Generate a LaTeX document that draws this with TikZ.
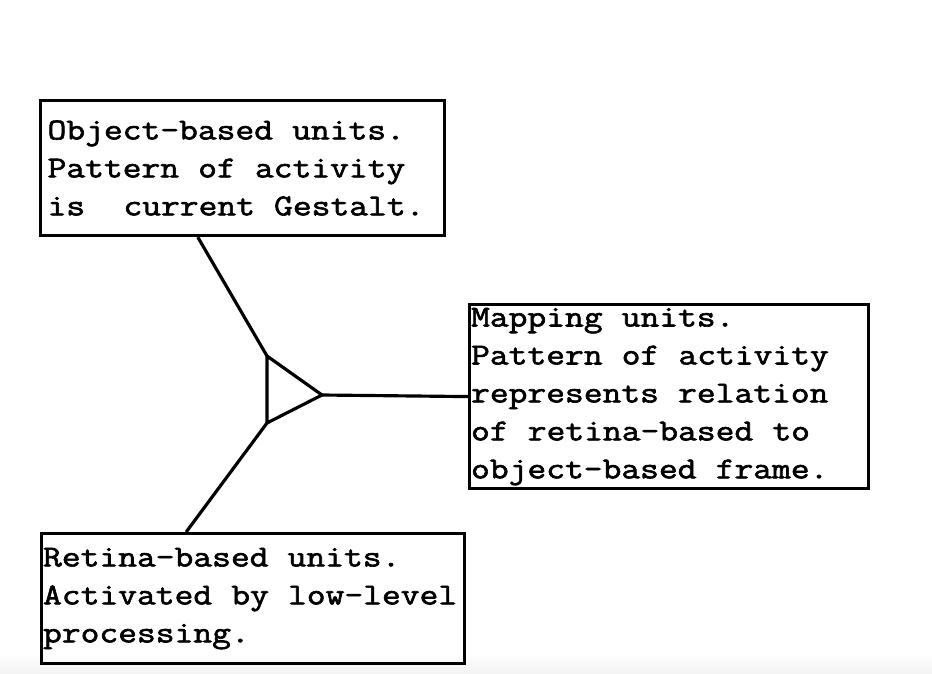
\documentclass[tikz,border=0pt]{standalone}
\usepackage{fontspec}
\usepackage{tikz}
\usetikzlibrary{calc}
\newfontfamily\typew[FakeStretch=1.2, FakeBold=2]{Latin Modern Mono}
\newcommand\unitfont{\typew\fontsize{17.3}{21.6}\selectfont}
\pgfdeclarelayer{bg}
\pgfsetlayers{bg,main}
\tikzset{
    unit/.style={draw, rectangle, line width=1.8pt, anchor=north west,
    	align=left, inner ysep=0pt, font=\unitfont,
    	execute at begin node={\spaceskip=10.9pt\relax}},
    link/.style={line width=1.8pt, line join=round}
}
\begin{document}
\begin{tikzpicture}
  \useasboundingbox (0,0) rectangle (18.64,-13.48);

  \node (u0) [unit, inner xsep=0.14cm, text width=7.80cm, minimum height=2.7cm]
    at (0.78cm, -1.98cm) {Object-based units.\\Pattern of activity\\is\ \ current Gestalt.};
  \node (u1) [unit, inner xsep=0.03cm, text width=7.92cm, minimum height=3.68cm]
    at (9.36cm, -6.06cm) {Mapping units.\\Pattern of activity\\represents relation\\of retina-based to\\object-based frame.};
  \node (u2) [unit, inner xsep=0.03cm, text width=8.40cm, minimum height=2.6cm]
    at (0.80cm, -10.64cm) {Retina-based units.\\Activated by low-level\\processing.};

  \coordinate (t0) at (5.34cm, -7.12cm);
  \coordinate (t1) at (5.34cm, -8.46cm);
  \coordinate (t2) at (6.44cm, -7.90cm);

  \begin{pgfonlayer}{bg}
	  \shade[top color=white, bottom color=gray!9] (0,-13.05) rectangle (18.64,-13.48);
	  \draw[link] (t0) -- (t1) -- (t2) -- cycle;
	  \draw[link] ($(u0.south west)!0.39!(u0.south east)$) -- (t0);
	  \draw[link] (t2) -- (u1.west);
	  \draw[link] (t1) -- ($(u2.north west)!0.343!(u2.north east)$);
  \end{pgfonlayer}

\end{tikzpicture}
\end{document}
